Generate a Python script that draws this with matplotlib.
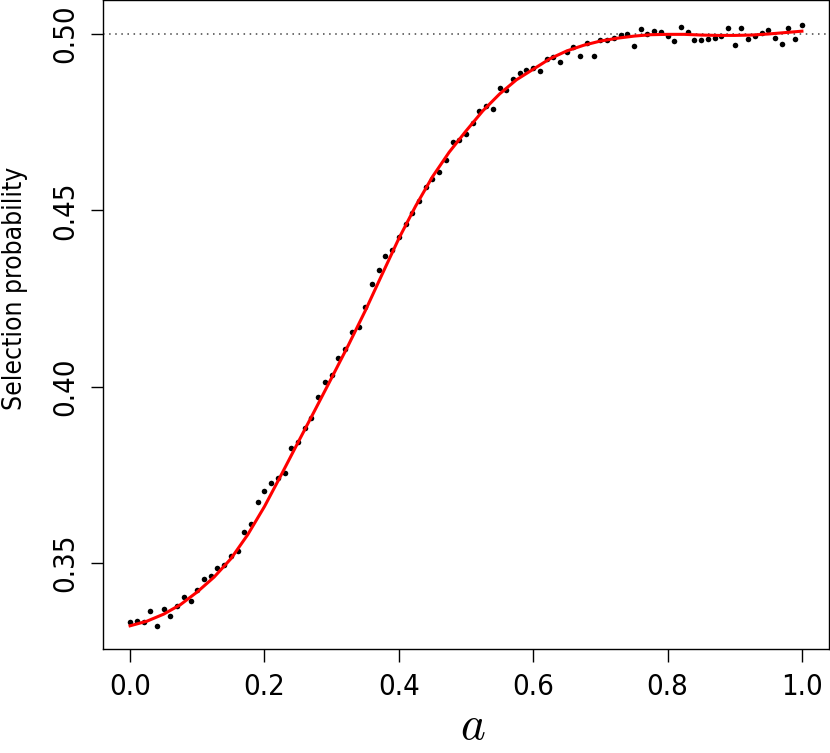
import matplotlib
matplotlib.use("Agg")
import matplotlib.pyplot as plt
from matplotlib import font_manager

# data points (a = 0.00 .. 1.00 step 0.01)
a_vals = [i / 100 for i in range(101)]
sel_prob = [
    0.3332, 0.3336, 0.3332, 0.3363, 0.3322, 0.3370, 0.3350, 0.3377, 0.3405, 0.3392,
    0.3424, 0.3455, 0.3462, 0.3485, 0.3493, 0.3521, 0.3534, 0.3589, 0.3610, 0.3674,
    0.3704, 0.3726, 0.3740, 0.3754, 0.3825, 0.3842, 0.3884, 0.3912, 0.3971, 0.4014,
    0.4033, 0.4082, 0.4108, 0.4154, 0.4170, 0.4227, 0.4291, 0.4330, 0.4371, 0.4388,
    0.4424, 0.4460, 0.4493, 0.4527, 0.4565, 0.4588, 0.4608, 0.4643, 0.4693, 0.4699,
    0.4716, 0.4749, 0.4783, 0.4796, 0.4788, 0.4846, 0.4840, 0.4872, 0.4890, 0.4898,
    0.4905, 0.4895, 0.4928, 0.4935, 0.4921, 0.4948, 0.4963, 0.4938, 0.4974, 0.4938,
    0.4982, 0.4983, 0.4988, 0.4996, 0.4999, 0.4965, 0.5013, 0.5001, 0.5009, 0.5007,
    0.4993, 0.4979, 0.5021, 0.5005, 0.4983, 0.4983, 0.4987, 0.4990, 0.4995, 0.5016,
    0.4969, 0.5016, 0.4986, 0.4994, 0.5002, 0.5012, 0.4990, 0.4972, 0.5018, 0.4985,
    0.5026,
]

# smooth fit curve
curve_x = [0.00, 0.025, 0.05, 0.075, 0.10, 0.125, 0.15, 0.175, 0.20, 0.225, 0.25, 0.275,
           0.30, 0.325, 0.35, 0.375, 0.40, 0.425, 0.45, 0.475, 0.50, 0.525, 0.55, 0.575,
           0.60, 0.625, 0.65, 0.675, 0.70, 0.725, 0.75, 0.775, 0.80, 0.825, 0.85, 0.875,
           0.90, 0.925, 0.95, 0.975, 1.00]
curve_y = [0.3322, 0.3335, 0.3355, 0.3382, 0.3418, 0.3460, 0.3512, 0.3580, 0.3660, 0.3750,
           0.3842, 0.3933, 0.4025, 0.4118, 0.4215, 0.4318, 0.4420, 0.4512, 0.4595, 0.4665,
           0.4725, 0.4782, 0.4830, 0.4870, 0.4900, 0.4930, 0.4952, 0.4968, 0.4980, 0.4988,
           0.4994, 0.4998, 0.4999, 0.4999, 0.4997, 0.4996, 0.4996, 0.4997, 0.5000, 0.5004, 0.5008]

ref_level = 0.5
xticks = [0.0, 0.2, 0.4, 0.6, 0.8, 1.0]
xtick_labels = ["0.0", "0.2", "0.4", "0.6", "0.8", "1.0"]
yticks = [0.35, 0.40, 0.45, 0.50]
ytick_labels = ["0.35", "0.40", "0.45", "0.50"]

plt.rcParams['mathtext.fontset'] = 'cm'
tick_font = font_manager.FontProperties(family='DejaVu Sans', stretch='condensed', size=21)
lab_font = font_manager.FontProperties(family='DejaVu Sans', stretch='condensed', size=19)

fig = plt.figure(figsize=(8.30, 7.53), dpi=100)
ax = fig.add_axes([103.2 / 830, 1 - 649 / 753, 725.6 / 830, 649 / 753])

ax.axhline(ref_level, color='#444444', linestyle=(0, (1, 3)), linewidth=1.1, zorder=1)
ax.scatter(a_vals, sel_prob, s=16, color='black', zorder=3, linewidths=0)
ax.plot(curve_x, curve_y, color='#ff0000', linewidth=2.2, zorder=4)

ax.set_xlim(-0.04, 1.04)
ax.set_ylim(0.32562, 0.50964)
ax.set_xticks(xticks)
ax.set_xticklabels(xtick_labels, fontproperties=tick_font)
ax.set_yticks(yticks)
ax.set_yticklabels(ytick_labels, fontproperties=tick_font, rotation=90, va='center')
ax.tick_params(direction='out', length=9, width=1, pad=8)
for s in ax.spines.values():
    s.set_linewidth(1.0)

ax.set_xlabel(r'$a$', fontsize=34, labelpad=0)
ax.xaxis.set_label_coords(0.51, -0.084)
ax.set_ylabel('Selection probability', fontproperties=lab_font)
ax.yaxis.set_label_coords(-0.103, 0.555)

fig.savefig('out.png', dpi=100)
